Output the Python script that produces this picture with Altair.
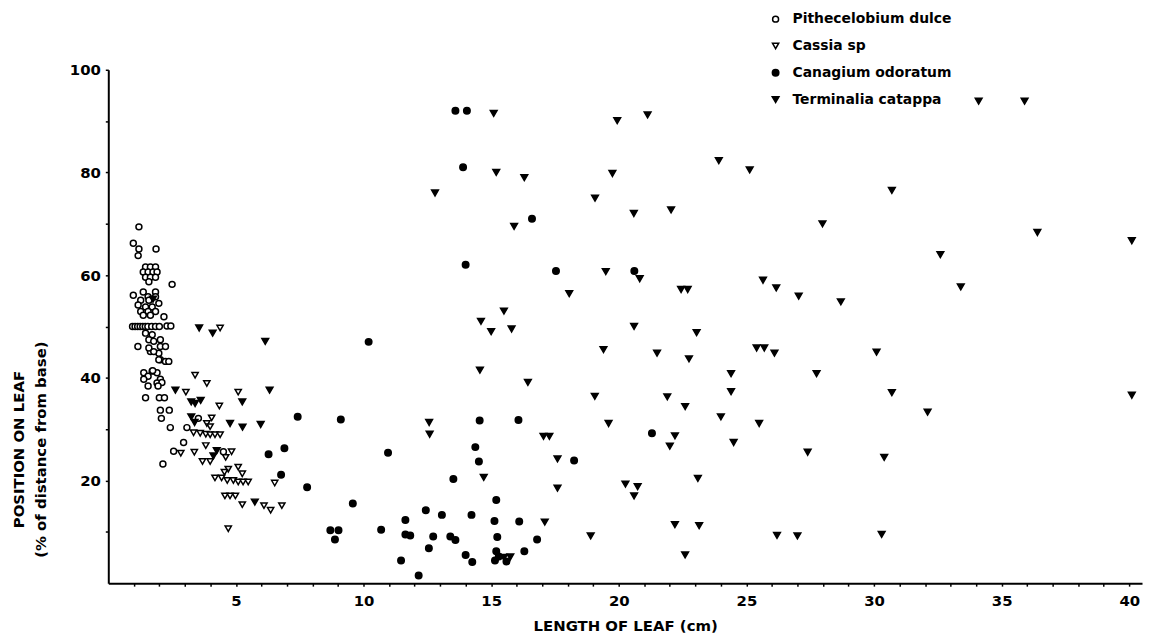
import altair as alt
import pandas as pd

species_order = ["Pithecelobium dulce", "Cassia sp", "Canagium odoratum", "Terminalia catappa"]

# Pithecelobium dulce (open circles)
pith_x = [1.2, 0.98, 1.2, 1.17, 1.87,
          1.46, 1.65, 1.85, 1.37, 1.56, 1.75, 1.91, 1.46, 1.65, 1.85, 1.59, 2.5,
          1.37, 1.85, 0.98, 1.56, 1.85, 1.27, 1.59, 1.98, 1.17, 1.46, 1.72, 1.27, 1.56, 1.85, 1.37, 1.65, 2.18,
          0.95, 1.05, 1.15, 1.25, 1.35, 1.45, 1.55, 1.7, 1.85, 2.0, 2.3, 2.45,
          1.46, 1.72, 1.59, 1.78, 2.04, 1.16, 2.04, 2.24, 1.65, 1.98, 1.59, 1.78, 2.04, 2.24, 2.37, 1.98,
          1.39, 1.56, 1.39, 1.72, 1.91, 2.04, 1.91, 2.1, 1.56, 1.95, 1.46, 2.0, 2.2, 1.74,
          2.04, 2.39, 2.08, 2.43, 3.08, 3.53, 2.95, 2.56, 2.14, 4.51]
pith_y = [69.4, 66.2, 65.1, 63.8, 65.1,
          61.6, 61.6, 61.6, 60.6, 60.6, 60.6, 60.6, 59.6, 59.6, 59.6, 58.7, 58.2,
          56.7, 56.7, 56.1, 55.8, 55.8, 55.1, 55.1, 54.5, 54.2, 53.8, 53.8, 52.9, 52.9, 52.9, 52.2, 52.2, 51.9,
          50.0, 50.0, 50.0, 50.0, 50.0, 50.0, 50.0, 50.0, 50.0, 50.0, 50.1, 50.1,
          48.7, 48.4, 47.4, 47.1, 47.4, 46.1, 46.1, 46.1, 45.1, 44.8, 45.8, 45.1, 43.5, 43.2, 43.2, 43.5,
          41.0, 40.3, 39.7, 41.3, 41.0, 39.7, 39.0, 39.1, 38.4, 38.4, 36.1, 36.1, 36.1, 41.4,
          33.7, 33.7, 32.1, 30.3, 30.3, 32.1, 27.4, 25.7, 23.2, 25.6]

# Cassia sp (open triangles)
cassia_x = [4.38, 3.4, 3.86, 3.04, 5.09, 4.35, 4.05, 3.86, 3.99, 3.34, 3.6, 3.82, 3.99, 4.18, 4.38,
            3.82, 2.84, 3.37, 4.83, 4.6, 3.69, 3.99, 5.09, 5.25, 4.7, 4.55, 4.18, 4.44, 4.66, 4.9,
            5.09, 5.28, 5.48, 6.52, 4.57, 4.77, 4.98, 5.25, 6.1, 6.36, 6.8, 4.7]
cassia_y = [49.7, 40.5, 38.9, 37.2, 37.2, 34.5, 32.2, 31.1, 30.5, 29.3, 29.2, 29.0, 28.9, 28.9, 28.9,
            26.8, 25.3, 25.5, 25.6, 24.5, 23.7, 23.7, 22.6, 21.3, 22.2, 21.6, 20.5, 20.5, 20.0, 20.0,
            19.7, 19.7, 19.7, 19.5, 17.0, 17.0, 17.0, 15.3, 15.1, 14.2, 15.1, 10.6]

# Canagium odoratum (filled circles)
cana_x = [6.77, 7.79, 6.28, 6.9, 7.42, 9.11, 10.96, 14.55, 16.07, 14.38, 14.52, 13.52, 9.58, 15.2,
          12.44, 13.07, 14.23, 11.64, 15.13, 16.1, 8.7, 9.02, 10.69, 8.88, 11.64, 11.83, 12.73, 13.4,
          13.6, 15.24, 16.8, 12.56, 15.2, 16.3, 14.0, 11.47, 14.26, 15.15, 15.3, 15.6, 12.16,
          17.54, 20.61, 21.3, 18.25, 13.6, 14.05, 13.9, 16.6, 14.0, 10.2]
cana_y = [21.1, 18.7, 25.1, 26.3, 32.4, 31.9, 25.4, 31.7, 31.8, 26.5, 23.7, 20.3, 15.5, 16.2,
          14.2, 13.3, 13.3, 12.3, 12.1, 12.0, 10.3, 10.3, 10.4, 8.5, 9.5, 9.3, 9.1, 9.1,
          8.4, 9.0, 8.5, 6.8, 6.2, 6.2, 5.5, 4.4, 4.1, 4.4, 5.2, 4.2, 1.5,
          60.8, 60.8, 29.2, 23.9, 92.0, 92.0, 81.0, 71.0, 62.0, 47.0]

# Terminalia catappa (filled triangles)
term_x = [3.56, 4.09, 6.15, 2.63, 6.32, 3.25, 3.4, 3.62, 5.25, 3.25, 3.38, 4.77, 5.26, 5.97, 4.25, 4.12, 5.74, 1.75,
          19.94, 21.13, 23.92, 25.13, 19.75, 19.07, 20.59, 22.05, 27.98, 19.49, 20.82, 18.06, 22.44, 22.7,
          25.65, 26.17, 27.05, 28.7, 20.6,
          34.1, 35.9, 30.7, 36.4, 40.1, 32.6, 33.4,
          23.05, 19.4, 21.5, 22.75, 25.4, 25.7, 26.1, 24.4, 27.75, 19.06, 21.9, 24.4, 22.6, 24.0, 19.6,
          25.5, 22.2, 22.0, 24.5, 27.4, 17.6, 17.6, 20.26, 20.74, 20.6, 23.1, 22.2, 23.15, 18.9, 26.2,
          27.0, 22.6,
          30.1, 30.7, 32.1, 40.1, 30.4, 30.3,
          14.56, 16.44, 12.57, 12.59, 17.05, 17.28, 14.71, 17.1, 15.5, 15.75,
          15.1, 12.8, 15.2, 16.3, 15.9, 15.5, 14.6, 15.0, 15.8]
term_y = [49.7, 48.7, 47.1, 37.6, 37.6, 35.3, 35.0, 35.6, 35.3, 32.4, 31.3, 31.1, 30.4, 30.9, 25.8, 24.8, 15.8, 55.3,
          90.1, 91.2, 82.3, 80.5, 79.8, 75.0, 72.0, 72.7, 70.0, 60.7, 59.3, 56.4, 57.2, 57.2,
          59.0, 57.5, 55.9, 54.8, 50.0,
          93.9, 93.9, 76.5, 68.3, 66.7, 64.0, 57.7,
          48.8, 45.5, 44.8, 43.7, 45.8, 45.8, 44.8, 40.8, 40.8, 36.4, 36.3, 37.3, 34.4, 32.4, 31.1,
          31.1, 28.7, 26.7, 27.4, 25.5, 24.2, 18.5, 19.3, 18.8, 17.0, 20.4, 11.4, 11.2, 9.2, 9.3,
          9.2, 5.5,
          45.0, 37.1, 33.3, 36.6, 24.5, 9.5,
          41.5, 39.1, 31.3, 29.0, 28.6, 28.6, 20.6, 11.9, 5.0, 5.1,
          91.5, 76.0, 80.0, 79.0, 69.5, 53.0, 51.0, 49.0, 49.5]

rows = []
for name, xs, ys in [(species_order[0], pith_x, pith_y), (species_order[1], cassia_x, cassia_y),
                     (species_order[2], cana_x, cana_y), (species_order[3], term_x, term_y)]:
    for a, b in zip(xs, ys):
        rows.append({"species": name, "length": a, "position": b})
df = pd.DataFrame(rows)

FONT = "DejaVu Sans"
legend = alt.Legend(title=None, orient="none", legendX=665, legendY=-58,
                    labelFont=FONT, labelFontSize=14, labelFontWeight="bold", labelColor="black",
                    labelLimit=400, rowPadding=13, symbolStrokeWidth=1.5,
                    labelOffset=10)

chart = alt.Chart(df).mark_point(filled=True, opacity=1, strokeWidth=1.5).encode(
    x=alt.X("length:Q",
            scale=alt.Scale(domain=[0, 40.5], nice=False, zero=True),
            axis=alt.Axis(values=list(range(1, 41)),
                          labelExpr="datum.value % 5 == 0 ? datum.label : ''",
                          title="LENGTH OF LEAF (cm)", titleY=43, titleBaseline="middle",
                          labelPadding=8)),
    y=alt.Y("position:Q",
            scale=alt.Scale(domain=[0, 100], nice=False),
            axis=alt.Axis(values=list(range(10, 101, 10)),
                          labelExpr="datum.value % 20 == 0 ? datum.label : ''",
                          title=["POSITION ON LEAF", "(% of distance from base)"],
                          titleX=-90, titleY=382, titleBaseline="middle", titleAlign="center",
                          titleLineHeight=22, labelPadding=5)),
    shape=alt.Shape("species:N", sort=species_order,
                    scale=alt.Scale(domain=species_order,
                                    range=["circle", "triangle-down", "circle", "triangle-down"]),
                    legend=legend),
    fill=alt.Fill("species:N", sort=species_order,
                  scale=alt.Scale(domain=species_order, range=["white", "white", "black", "black"]),
                  legend=legend),
    stroke=alt.Stroke("species:N", sort=species_order,
                      scale=alt.Scale(domain=species_order, range=["black", "black", "black", "black"]),
                      legend=legend),
    size=alt.Size("species:N", sort=species_order,
                  scale=alt.Scale(domain=species_order, range=[36, 46, 36, 52]),
                  legend=legend),
).properties(
    width=1041, height=517,
    autosize=alt.AutoSizeParams(type="none"),
    padding={"left": 101, "top": 60, "right": 2, "bottom": 51},
).configure_view(stroke=None).configure_axis(
    grid=False, domainColor="black", domainWidth=2, tickColor="black", tickWidth=1.5, tickSize=3,
    labelFont=FONT, labelFontSize=15, labelFontWeight="bold", labelColor="black",
    titleFont=FONT, titleFontSize=15, titleFontWeight="bold", titleColor="black",
)

chart.save("out.html", embed_options={"renderer": "svg", "actions": False})
